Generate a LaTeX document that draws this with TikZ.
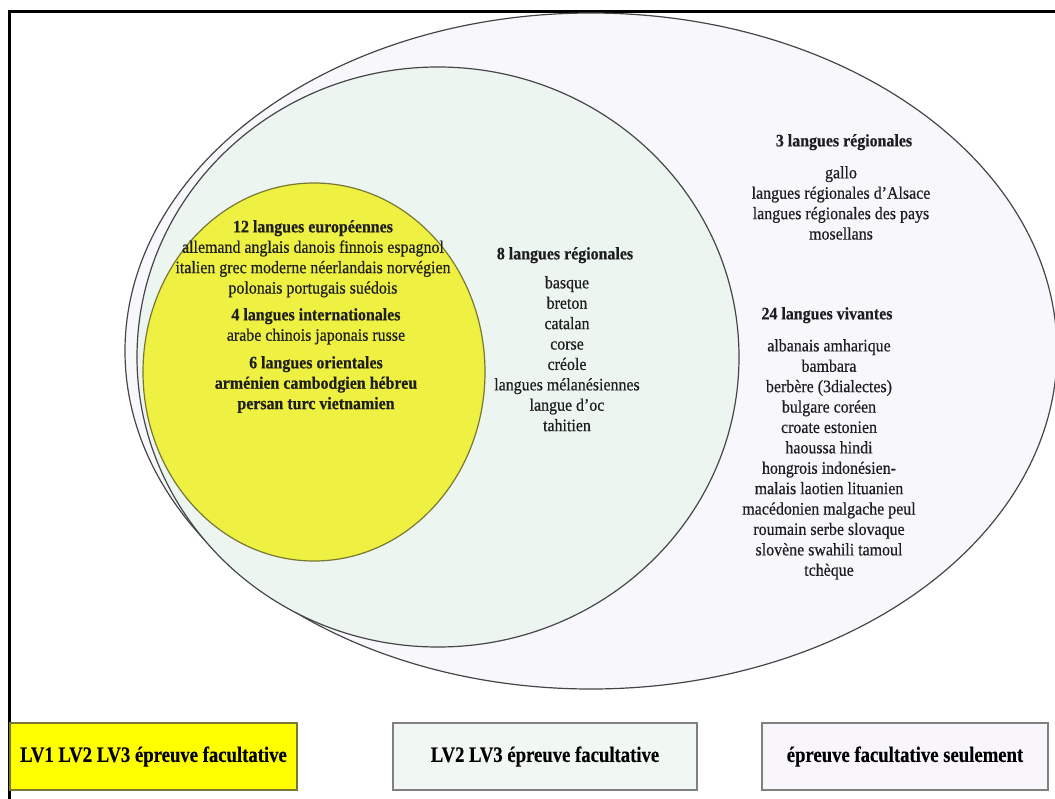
\documentclass[tikz,border=0pt]{standalone}
\usepackage{fontspec}
\setmainfont[FakeStretch=0.91,FakeBold=0.5]{Liberation Serif}
\newfontfamily\boxfont[FakeStretch=0.85,FakeBold=0.3]{Liberation Serif}
\definecolor{yelfill}{RGB}{238,240,66}
\definecolor{yelline}{RGB}{120,120,50}
\definecolor{grnfill}{RGB}{237,245,241}
\definecolor{outfill}{RGB}{248,247,252}
\definecolor{boxyel}{RGB}{255,255,0}
\definecolor{boxgrn}{RGB}{241,248,243}
\definecolor{boxlav}{RGB}{248,246,251}
\definecolor{ink}{RGB}{30,30,30}
\definecolor{edge}{RGB}{70,70,70}
\tikzset{
  setfill/.style={draw=edge, line width=1.2pt},
  txt/.style={inner sep=0pt, anchor=north, align=center, text=ink,
              font=\fontsize{17.5}{20.4}\selectfont},
  hdr/.style={txt, font=\fontsize{17.5}{20.4}\selectfont\bfseries},
  legend/.style={draw=#1, line width=1.3pt, minimum width=0pt, inner sep=0pt,
                 font=\boxfont\fontsize{22}{26}\selectfont\bfseries, text=black}
}
\begin{document}
\begin{tikzpicture}[x=1pt,y=-1pt]
\useasboundingbox (0,0) rectangle (1055,798);
\fill[white] (0,0) rectangle (1055,798);
% frame
\draw[line width=3pt] (9.5,11.5) rectangle (1080,820);
% sets
\draw[setfill, fill=outfill] (591,351) ellipse [x radius=466, y radius=338];
\draw[setfill, fill=grnfill] (438,357) ellipse [x radius=301, y radius=290];
\draw[setfill, draw=yelline, fill=yelfill] (314,372) ellipse [x radius=171, y radius=189];
% yellow texts
\node[txt] (eur) at (313,220) {\textbf{12 langues européennes}\\allemand anglais danois finnois espagnol\\italien grec moderne néerlandais norvégien\\polonais portugais suédois};
\node[txt] (intl) at (316,308) {\textbf{4 langues internationales}\\arabe chinois japonais russe};
\node[txt] (orient) at (316,356) {\textbf{6 langues orientales}\\\textbf{arménien cambodgien hébreu}\\\textbf{persan turc vietnamien}};
% green texts
\node[hdr] (reg8) at (565,247) {8 langues régionales};
\node[txt] (reg8l) at (567,276) {basque\\breton\\catalan\\corse\\créole\\langues mélanésiennes\\langue d'oc\\tahitien};
% outer texts
\node[hdr] (reg3) at (844,134) {3 langues régionales};
\node[txt] (reg3l) at (841,166) {gallo\\langues régionales d'Alsace\\langues régionales des pays\\mosellans};
\node[hdr] (viv) at (827,307) {24 langues vivantes};
\node[txt] (vivl) at (829,339) {albanais amharique\\bambara\\berbère (3dialectes)\\bulgare coréen\\croate estonien\\haoussa hindi\\hongrois indonésien-\\malais laotien lituanien\\macédonien malgache peul\\roumain serbe slovaque\\slovène swahili tamoul\\tchèque};
% legend boxes
\node[legend=yelline, fill=boxyel, minimum width=287pt, minimum height=67pt] (b1) at (153.5,756.5) {LV1 LV2 LV3 épreuve facultative};
\node[legend=gray, fill=boxgrn, minimum width=304pt, minimum height=67pt] (b2) at (545,756.5) {LV2 LV3 épreuve facultative};
\node[legend=gray, fill=boxlav, minimum width=286pt, minimum height=67pt] (b3) at (905,756.5) {épreuve facultative seulement};
\end{tikzpicture}
\end{document}
